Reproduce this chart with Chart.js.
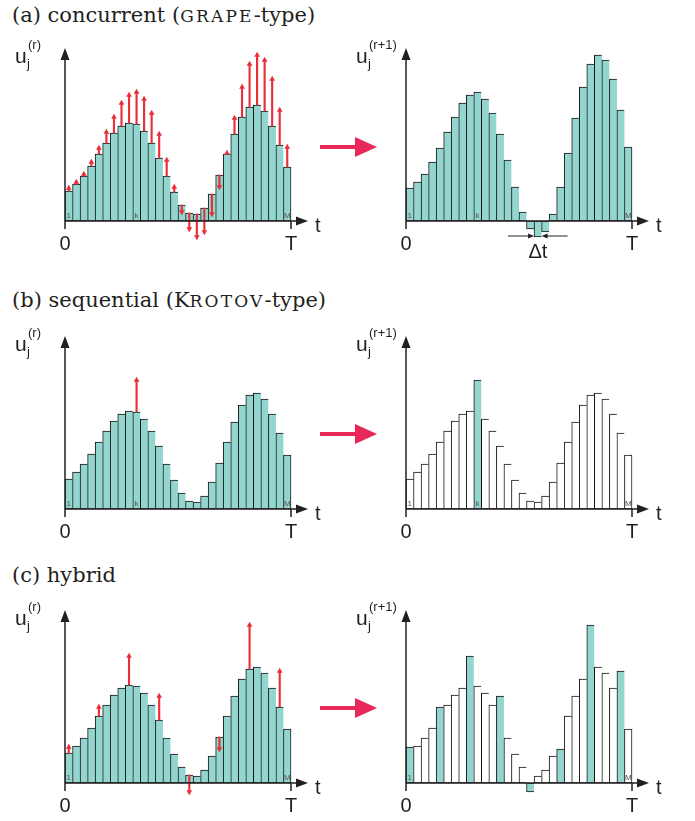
<!DOCTYPE html>
<html>
<head>
<meta charset="utf-8">
<script src="https://cdn.jsdelivr.net/npm/chart.js@4.4.1/dist/chart.umd.min.js"></script>
<style>
  body { margin: 0; background: #fff; width: 695px; height: 821px; position: relative; overflow: hidden; }
  canvas { position: absolute; }
  .title { position: absolute; left: 12px; font-family: "DejaVu Serif", serif; font-size: 21px; line-height: 24px; color: #231f20; white-space: nowrap; }
  .sc { font-size: 17px; letter-spacing: 2.2px; }
  svg { position: absolute; left: 0; top: 0; }
</style>
</head>
<body>
<div class="title" style="top:3px">(a) concurrent (<span class="sc">GRAPE</span>-type)</div>
<div class="title" style="top:288px">(b) sequential (K<span class="sc">ROTOV</span>-type)</div>
<div class="title" style="top:563px">(c) hybrid</div>

<canvas id="aL" width="340" height="237" style="left:0;top:26px"></canvas>
<canvas id="aR" width="340" height="237" style="left:341px;top:26px"></canvas>
<canvas id="bL" width="340" height="237" style="left:0;top:314px"></canvas>
<canvas id="bR" width="340" height="237" style="left:341px;top:314px"></canvas>
<canvas id="cL" width="340" height="237" style="left:0;top:588px"></canvas>
<canvas id="cR" width="340" height="237" style="left:341px;top:588px"></canvas>

<svg width="695" height="821">
  <g fill="#e9285a">
    <rect x="320" y="145" width="37" height="4"/><polygon points="355,137 377,147 355,157"/>
    <rect x="320" y="432" width="37" height="4"/><polygon points="355,424 377,434 355,444"/>
    <rect x="320" y="706" width="37" height="4"/><polygon points="355,698 377,708 355,718"/>
  </g>
</svg>

<script>
// time slots j = 1..M
const slots = Array.from({ length: 30 }, (_, i) => String(i + 1));
// controls before the update, u_j^(r)
const uOld = [30, 37, 45, 55, 67, 78, 88, 95, 98, 97, 90, 78, 63, 45, 29,
              16, 8, 7, 13, 27, 46, 67, 87, 104, 114, 116, 110, 95, 76, 54];
// controls after the concurrent update, u_j^(r+1)
const uNew = [33, 39, 47, 59, 73, 89, 104, 118, 126, 129, 122, 108, 87, 61, 34,
              9, -8, -16, -11, 7, 34, 68, 103, 134, 157, 166, 161, 142, 111, 74];
// sequential: only slot k is updated
const kSlot = 10;
// hybrid: every 4th slot is updated
const hybridSlots = [1, 5, 9, 13, 17, 21, 25, 29];
const hybridNew = [36, 76, 127, 87, -9, 34, 158, 112];

const TEAL = "#93d5cf";
const INK = "#231f20";
const RED = "#e8303a";

function barSet(values, colors) {
  return {
    type: "bar",
    data: values,
    backgroundColor: colors,
    borderColor: "#151515",
    borderWidth: (c) => ({ top: 1, bottom: 1, left: 1, right: c.dataIndex === values.length - 1 ? 1 : 0 }),
    borderSkipped: false,
    grouped: false,
    categoryPercentage: 1,
    barPercentage: 1,
    order: 2,
    clip: false
  };
}

// red update arrows: shaft = floating bar, head = triangle point
function arrowSets(from, to) {
  return [
    {
      type: "bar",
      data: from.map((v, i) => (to[i] == null ? null : [v, to[i]])),
      backgroundColor: RED,
      borderWidth: 0,
      barThickness: 1.5,
      grouped: false,
      order: 1,
      clip: false
    },
    {
      type: "line",
      data: to,
      showLine: false,
      pointStyle: "triangle",
      pointRadius: to.map((v) => (v == null ? 0 : 3.3)),
      pointRotation: to.map((v, i) => (v != null && v < from[i] ? 180 : 0)),
      pointBackgroundColor: RED,
      pointBorderWidth: 0,
      order: 0,
      clip: false
    }
  ];
}

const axesPlugin = {
  id: "axes",
  afterDatasetsDraw(chart, args, opts) {
    const { ctx, chartArea, scales: { x, y } } = chart;
    const ox = chartArea.left, oy = y.getPixelForValue(0), end = chartArea.right;
    const top = y.getPixelForValue(173);
    ctx.save();
    ctx.strokeStyle = INK;
    ctx.fillStyle = INK;
    ctx.lineWidth = 1.5;
    ctx.beginPath();
    ctx.moveTo(ox, oy + 8); ctx.lineTo(ox, top + 10);
    ctx.moveTo(ox, oy); ctx.lineTo(end + 8, oy);
    ctx.moveTo(end, oy); ctx.lineTo(end, oy + 8);
    ctx.stroke();
    ctx.beginPath();
    ctx.moveTo(ox, top); ctx.lineTo(ox - 4.5, top + 12); ctx.lineTo(ox + 4.5, top + 12); ctx.closePath();
    ctx.moveTo(end + 17, oy); ctx.lineTo(end + 5, oy - 4.5); ctx.lineTo(end + 5, oy + 4.5); ctx.closePath();
    ctx.fill();

    ctx.font = '20px "Liberation Sans"';
    ctx.textAlign = "center";
    ctx.fillText("0", ox, oy + 29);
    ctx.fillText("T", end, oy + 29);
    ctx.textAlign = "left";
    ctx.fillText("t", ox + 250, oy + 11);
    ctx.font = '21px "Liberation Sans"';
    ctx.fillText("u", ox - 50, oy - 158);
    ctx.font = '13px "Liberation Sans"';
    ctx.fillText("j", ox - 38, oy - 153);
    ctx.fillText(opts.sup, ox - 37, oy - 172);

    ctx.font = '8px "Liberation Sans"';
    ctx.fillStyle = "#555";
    ctx.textAlign = "center";
    opts.marks.forEach(([i, s]) => ctx.fillText(s, x.getPixelForValue(i), oy - 3));

    if (opts.dt != null) {
      const cx = x.getPixelForValue(opts.dt);
      const w = x.getPixelForValue(1) - x.getPixelForValue(0);
      const l = cx - w / 2, r = cx + w / 2, ay = oy + 15;
      ctx.strokeStyle = INK; ctx.fillStyle = INK; ctx.lineWidth = 1;
      ctx.beginPath();
      ctx.moveTo(l - 26, ay); ctx.lineTo(l - 4, ay);
      ctx.moveTo(r + 26, ay); ctx.lineTo(r + 4, ay);
      ctx.stroke();
      ctx.beginPath();
      ctx.moveTo(l, ay); ctx.lineTo(l - 6, ay - 2.5); ctx.lineTo(l - 6, ay + 2.5); ctx.closePath();
      ctx.moveTo(r, ay); ctx.lineTo(r + 6, ay - 2.5); ctx.lineTo(r + 6, ay + 2.5); ctx.closePath();
      ctx.fill();
      ctx.font = '20px "Liberation Sans"';
      ctx.fillText("\u0394t", cx, oy + 37);
    }
    ctx.restore();
  }
};

function panel(id, datasets, sup, marks, dt) {
  new Chart(document.getElementById(id), {
    data: { labels: slots, datasets },
    options: {
      responsive: false,
      devicePixelRatio: 1,
      animation: false,
      events: [],
      layout: { padding: { left: 65, right: 49, top: 20, bottom: 22 } },
      scales: {
        x: { type: "category", display: false, offset: true },
        y: { display: false, min: -20, max: 175 }
      },
      plugins: {
        legend: { display: false },
        tooltip: { enabled: false },
        axes: { sup, marks, dt }
      }
    },
    plugins: [axesPlugin]
  });
}

const allTeal = uOld.map(() => TEAL);
const marks1kM = [[0, "1"], [kSlot - 1, "k"], [29, "M"]];
const marks1M = [[0, "1"], [29, "M"]];

// (a) concurrent
panel("aL", [barSet(uOld, allTeal), ...arrowSets(uOld, uNew)], "(r)", marks1kM);
panel("aR", [barSet(uNew, allTeal)], "(r+1)", marks1kM, 17);

// (b) sequential
const seqTo = uOld.map((v, i) => (i === kSlot - 1 ? uNew[i] : null));
const seqVals = uOld.map((v, i) => (i === kSlot - 1 ? uNew[i] : v));
const seqCols = uOld.map((v, i) => (i === kSlot - 1 ? TEAL : "#ffffff"));
panel("bL", [barSet(uOld, allTeal), ...arrowSets(uOld, seqTo)], "(r)", marks1kM);
panel("bR", [barSet(seqVals, seqCols)], "(r+1)", marks1kM);

// (c) hybrid
const hybTo = uOld.map((v, i) => { const h = hybridSlots.indexOf(i + 1); return h < 0 ? null : hybridNew[h]; });
const hybVals = uOld.map((v, i) => (hybTo[i] == null ? v : hybTo[i]));
const hybCols = uOld.map((v, i) => (hybTo[i] == null ? "#ffffff" : TEAL));
panel("cL", [barSet(uOld, allTeal), ...arrowSets(uOld, hybTo)], "(r)", marks1M);
panel("cR", [barSet(hybVals, hybCols)], "(r+1)", marks1M);
</script>
</body>
</html>
